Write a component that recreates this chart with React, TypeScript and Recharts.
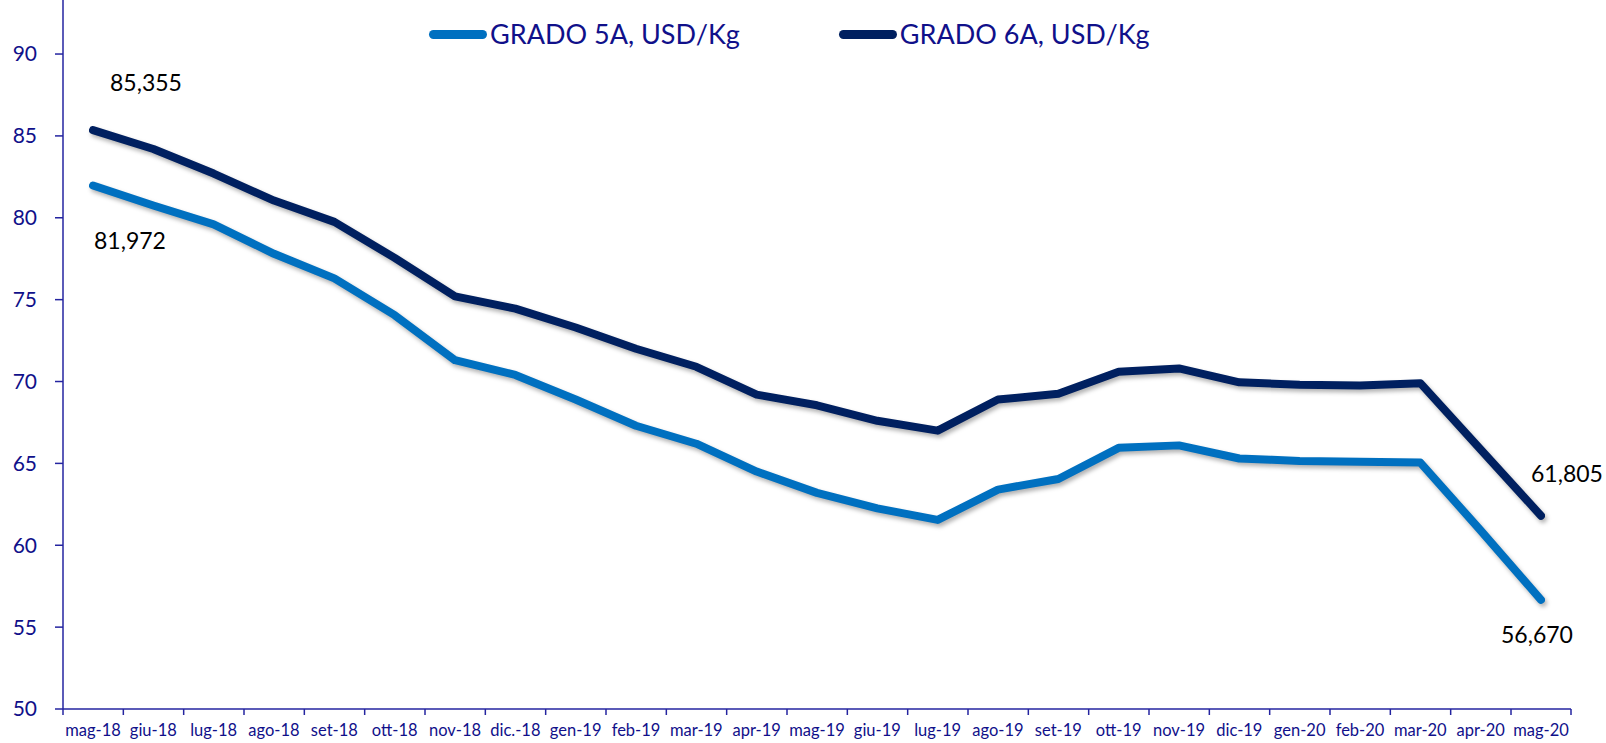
import { LineChart, Line, XAxis, YAxis, LabelList } from "recharts";

const months = [
  "mag-18", "giu-18", "lug-18", "ago-18", "set-18", "ott-18", "nov-18", "dic.-18",
  "gen-19", "feb-19", "mar-19", "apr-19", "mag-19", "giu-19", "lug-19", "ago-19",
  "set-19", "ott-19", "nov-19", "dic-19", "gen-20", "feb-20", "mar-20", "apr-20", "mag-20",
];

const grado5A = [
  81.972, 80.75, 79.6, 77.8, 76.3, 74.05, 71.3, 70.4, 68.9, 67.3, 66.2, 64.5, 63.2,
  62.25, 61.55, 63.4, 64.05, 65.95, 66.1, 65.3, 65.15, 65.1, 65.05, 60.9, 56.67,
];

const grado6A = [
  85.355, 84.2, 82.7, 81.05, 79.75, 77.55, 75.2, 74.45, 73.3, 72.0, 70.9, 69.2, 68.55,
  67.6, 67.0, 68.9, 69.25, 70.6, 70.8, 69.95, 69.8, 69.75, 69.9, 65.85, 61.805,
];

const yTicks = [50, 55, 60, 65, 70, 75, 80, 85, 90];

const seriesNames = ["GRADO 5A, USD/Kg", "GRADO 6A, USD/Kg"];

const data = months.map((m, i) => ({ month: m, g5: grado5A[i], g6: grado6A[i] }));

const NAVY_TEXT = "#10108a";
const AXIS = "#2424a0";
const C5 = "#0070C0";
const C6 = "#002060";
const FONT = "Lato, 'Open Sans', sans-serif";
const HALF = 30;

const fmt = (v: number) => v.toFixed(3).replace(".", ",");

function CategoryTick(props: any) {
  const { x, y, payload, index } = props;
  const last = index === months.length - 1;
  return (
    <g>
      <line x1={x - HALF} x2={x - HALF} y1={y - 6} y2={y} stroke={AXIS} strokeWidth={1.5} />
      {last && <line x1={x + HALF} x2={x + HALF} y1={y - 6} y2={y} stroke={AXIS} strokeWidth={1.5} />}
      <text
        x={x}
        y={y + 15}
        textAnchor="middle"
        dominantBaseline="central"
        fill={NAVY_TEXT}
        fontSize={16.5}
        fontFamily={FONT}
      >
        {payload.value}
      </text>
    </g>
  );
}

function makeLabel(offsets: Record<number, [number, number]>) {
  return (props: any) => {
    const { x, y, value, index } = props;
    const off = offsets[index];
    if (!off) return null;
    return (
      <text
        x={x + off[0]}
        y={y + off[1]}
        textAnchor="middle"
        dominantBaseline="central"
        fill="#000"
        fontSize={23}
        fontFamily={FONT}
      >
        {fmt(value)}
      </text>
    );
  };
}

const label5 = makeLabel({ 0: [37, 55], 24: [-4, 34] });
const label6 = makeLabel({ 0: [53, -48], 24: [26, -43] });

function ChartLegend() {
  const items = [
    { name: seriesNames[0], color: C5, gap: 99 },
    { name: seriesNames[1], color: C6, gap: 0 },
  ];
  return (
    <div
      style={{
        position: "absolute",
        top: 17,
        left: 429,
        display: "flex",
        alignItems: "center",
        fontFamily: FONT,
      }}
    >
      {items.map((it) => (
        <div key={it.name} style={{ display: "flex", alignItems: "center", marginRight: it.gap }}>
          <span
            style={{
              display: "inline-block",
              width: 58,
              height: 9,
              borderRadius: 5,
              background: it.color,
              marginRight: 3,
            }}
          />
          <span style={{ fontSize: 27, color: NAVY_TEXT, lineHeight: "34px" }}>{it.name}</span>
        </div>
      ))}
    </div>
  );
}

export default function App() {
  return (
    <div style={{ position: "absolute", left: 0, top: 0, width: 1606, height: 743, background: "#fff" }}>
      <style>{`.recharts-line-curve { filter: drop-shadow(2px 3px 2px rgba(0,0,0,0.3)); }`}</style>
      <LineChart width={1606} height={743} data={data} margin={{ top: 0, right: 35, bottom: 0, left: 0 }}>
        <XAxis
          dataKey="month"
          height={34}
          padding={{ left: HALF, right: HALF }}
          stroke={AXIS}
          strokeWidth={1.5}
          tickLine={false}
          tickSize={6}
          tickMargin={0}
          interval={0}
          tick={<CategoryTick />}
        />
        <YAxis
          width={63}
          domain={[50, 93.3]}
          ticks={yTicks}
          allowDataOverflow
          stroke={AXIS}
          strokeWidth={1.5}
          tickSize={8}
          tickMargin={18}
          tick={{ fill: NAVY_TEXT, fontSize: 21, fontFamily: FONT }}
        />
        <Line
          dataKey="g5"
          name={seriesNames[0]}
          type="linear"
          stroke={C5}
          strokeWidth={8}
          strokeLinecap="round"
          strokeLinejoin="round"
          dot={false}
          isAnimationActive={false}
        >
          <LabelList dataKey="g5" content={label5} />
        </Line>
        <Line
          dataKey="g6"
          name={seriesNames[1]}
          type="linear"
          stroke={C6}
          strokeWidth={8}
          strokeLinecap="round"
          strokeLinejoin="round"
          dot={false}
          isAnimationActive={false}
        >
          <LabelList dataKey="g6" content={label6} />
        </Line>
      </LineChart>
      <ChartLegend />
    </div>
  );
}
